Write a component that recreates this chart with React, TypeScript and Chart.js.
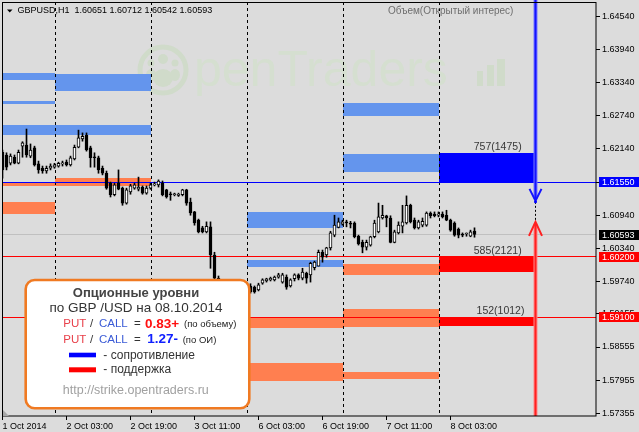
import React, { useEffect, useRef } from 'react';
import { Chart, registerables } from 'chart.js';

Chart.register(...registerables);

const FONT = '"Liberation Sans", Arial, sans-serif';

const symbolName = 'GBPUSD,H1';

const opens = [
  1.6208, 1.6203, 1.6188, 1.6199, 1.6188, 1.6219, 1.6221, 1.6201, 1.6216, 1.6187,
  1.6179, 1.6174, 1.6179, 1.6181, 1.6183, 1.6187, 1.6190, 1.6185, 1.6196, 1.6217,
  1.6232, 1.6239, 1.6216, 1.6199, 1.6198, 1.6179, 1.6170, 1.6152, 1.6131, 1.6152,
  1.6143, 1.6116, 1.6136, 1.6143, 1.6141, 1.6145, 1.6134, 1.6143, 1.6149, 1.6149,
  1.6152, 1.6140, 1.6132, 1.6131, 1.6130, 1.6131, 1.6140, 1.6118, 1.6100, 1.6085,
  1.6071, 1.6064, 1.6073, 1.6022, 1.5980, 1.5964, 1.5971, 1.5968, 1.5973, 1.5969,
  1.5971, 1.5968, 1.5966, 1.5964, 1.5959, 1.5971, 1.5975, 1.5977, 1.5977, 1.5982,
  1.5973, 1.5982, 1.5966, 1.5979, 1.5986, 1.5980, 1.5989, 1.5986, 1.5999, 1.6002,
  1.6027, 1.6022, 1.6035, 1.6058, 1.6072, 1.6078, 1.6082, 1.6080, 1.6080, 1.6056,
  1.6045, 1.6036, 1.6040, 1.6055, 1.6064, 1.6089, 1.6093, 1.6089, 1.6045, 1.6062,
  1.6074, 1.6080, 1.6112, 1.6085, 1.6071, 1.6076, 1.6076, 1.6098, 1.6096, 1.6094,
  1.6096, 1.6094, 1.6085, 1.6080, 1.6069, 1.6060, 1.6060, 1.6056, 1.60651,
];
const highs = [
  1.6212, 1.6207, 1.6205, 1.6203, 1.6212, 1.6227, 1.6250, 1.6223, 1.6219, 1.6192,
  1.6183, 1.6183, 1.6187, 1.6188, 1.6190, 1.6192, 1.6194, 1.6201, 1.6221, 1.6248,
  1.6243, 1.6243, 1.6219, 1.6207, 1.6201, 1.6183, 1.6174, 1.6154, 1.6152, 1.6176,
  1.6145, 1.6143, 1.6150, 1.6152, 1.6163, 1.6147, 1.6147, 1.6152, 1.6154, 1.6158,
  1.6156, 1.6141, 1.6136, 1.6134, 1.6134, 1.6141, 1.6141, 1.6125, 1.6101, 1.6087,
  1.6074, 1.6082, 1.6082, 1.6027, 1.5984, 1.5975, 1.5975, 1.5975, 1.5975, 1.5975,
  1.5973, 1.5973, 1.5970, 1.5966, 1.5971, 1.5979, 1.5980, 1.5982, 1.5984, 1.5989,
  1.5989, 1.5986, 1.5979, 1.5988, 1.5988, 1.5998, 1.5991, 1.6009, 1.6011, 1.6031,
  1.6031, 1.6036, 1.6065, 1.6094, 1.6089, 1.6085, 1.6085, 1.6083, 1.6082, 1.6058,
  1.6049, 1.6049, 1.6056, 1.6085, 1.6116, 1.6112, 1.6094, 1.6093, 1.6067, 1.6082,
  1.6112, 1.6129, 1.6114, 1.6089, 1.6085, 1.6089, 1.6100, 1.6100, 1.6100, 1.6100,
  1.6100, 1.6103, 1.6087, 1.6082, 1.6071, 1.6062, 1.6062, 1.6067, 1.60712,
];
const lows = [
  1.6161, 1.6176, 1.6185, 1.6187, 1.6187, 1.6199, 1.6199, 1.6198, 1.6183, 1.6170,
  1.6170, 1.6170, 1.6176, 1.6179, 1.6181, 1.6183, 1.6183, 1.6183, 1.6194, 1.6216,
  1.6228, 1.6210, 1.6181, 1.6181, 1.6170, 1.6167, 1.6141, 1.6127, 1.6129, 1.6140,
  1.6112, 1.6114, 1.6132, 1.6141, 1.6138, 1.6132, 1.6132, 1.6141, 1.6147, 1.6145,
  1.6129, 1.6125, 1.6121, 1.6129, 1.6128, 1.6129, 1.6112, 1.6094, 1.6076, 1.6062,
  1.6062, 1.6062, 1.5998, 1.5973, 1.5953, 1.5959, 1.5962, 1.5964, 1.5966, 1.5966,
  1.5964, 1.5959, 1.5953, 1.5953, 1.5957, 1.5969, 1.5973, 1.5975, 1.5975, 1.5980,
  1.5971, 1.5960, 1.5964, 1.5975, 1.5977, 1.5977, 1.5971, 1.5973, 1.5995, 1.6002,
  1.6009, 1.6018, 1.6031, 1.6055, 1.6071, 1.6076, 1.6073, 1.6071, 1.6053, 1.6040,
  1.6026, 1.6031, 1.6038, 1.6053, 1.6062, 1.6087, 1.6073, 1.6044, 1.6044, 1.6060,
  1.6062, 1.6078, 1.6080, 1.6069, 1.6069, 1.6073, 1.6074, 1.6089, 1.6091, 1.6091,
  1.6089, 1.6084, 1.6065, 1.6056, 1.6053, 1.6055, 1.6056, 1.6055, 1.60542,
];
const closes = [
  1.6176, 1.6181, 1.6201, 1.6188, 1.6208, 1.6225, 1.6203, 1.6212, 1.6185, 1.6176,
  1.6174, 1.6179, 1.6183, 1.6185, 1.6188, 1.6188, 1.6185, 1.6198, 1.6217, 1.6234,
  1.6237, 1.6212, 1.6198, 1.6198, 1.6176, 1.6170, 1.6143, 1.6131, 1.6149, 1.6141,
  1.6116, 1.6140, 1.6147, 1.6149, 1.6145, 1.6134, 1.6143, 1.6149, 1.6150, 1.6156,
  1.6131, 1.6127, 1.6131, 1.6132, 1.6132, 1.6140, 1.6116, 1.6098, 1.6080, 1.6064,
  1.6064, 1.6074, 1.6022, 1.5980, 1.5964, 1.5971, 1.5968, 1.5973, 1.5969, 1.5971,
  1.5968, 1.5966, 1.5955, 1.5955, 1.5968, 1.5977, 1.5979, 1.5980, 1.5982, 1.5986,
  1.5986, 1.5964, 1.5977, 1.5986, 1.5980, 1.5991, 1.5980, 1.6007, 1.6009, 1.6027,
  1.6018, 1.6035, 1.6062, 1.6076, 1.6082, 1.6082, 1.6080, 1.6078, 1.6055, 1.6042,
  1.6036, 1.6045, 1.6055, 1.6080, 1.6091, 1.6094, 1.6089, 1.6045, 1.6064, 1.6076,
  1.6082, 1.6112, 1.6082, 1.6071, 1.6082, 1.6083, 1.6098, 1.6093, 1.6093, 1.6096,
  1.6091, 1.6085, 1.6067, 1.6058, 1.6058, 1.6058, 1.6061, 1.6064, 1.60593,
];

const xTickIndex = [0, 16, 32, 48, 64, 80, 96, 112];
const xTickLabels = ['1 Oct 2014', '2 Oct 03:00', '2 Oct 19:00', '3 Oct 11:00', '6 Oct 03:00', '6 Oct 19:00', '7 Oct 11:00', '8 Oct 03:00'];
const daySeparators = [13, 37, 61, 85, 109];
const yTickValues = [1.6454, 1.6394, 1.6334, 1.6274, 1.6214, 1.6154, 1.6094, 1.6034, 1.5974, 1.59155, 1.58555, 1.57955, 1.57355];
const yMin = 1.573065;
const yMax = 1.64799;
const xMin = -0.125;
const xMax = 148.375;

// option levels (bar-index range, price range, kind)
const levelStart = [-0.125, -0.125, -0.125, -0.125, -0.125, 13, 13, 13, 61, 61, 61, 61, 85, 85, 85, 85, 85, 109, 109, 109];
const levelEnd = [13, 13, 13, 13, 13, 37, 37, 37, 85, 85, 85, 85, 109, 109, 109, 109, 109, 133, 133, 133];
const levelLow = [1.6339, 1.6296, 1.6239, 1.6147, 1.6096, 1.6319, 1.6239, 1.6146, 1.6070, 1.6001, 1.5890, 1.5794, 1.6274, 1.6172, 1.5986, 1.5892, 1.5798, 1.6153, 1.5992, 1.5893];
const levelHigh = [1.6351, 1.6301, 1.6257, 1.6155, 1.6118, 1.6350, 1.6257, 1.6162, 1.6100, 1.6013, 1.5910, 1.5826, 1.6298, 1.6205, 1.6006, 1.5924, 1.5810, 1.6207, 1.6020, 1.5910];
const levelKind = ['res', 'res', 'res', 'sup', 'sup', 'res', 'res', 'sup', 'res', 'res', 'sup', 'sup', 'res', 'res', 'sup', 'sup', 'sup', 'resNow', 'supNow', 'supNow'];

const currentLabelTop = [1.6207, 1.6020, 1.5910];
const currentLabelText = ['757(1475)', '585(2121)', '152(1012)'];
const currentLabelIndex = [123.8, 123.8, 124.5];

const hLinePrices = [1.6155, 1.6020, 1.5910];
const hLineKind = ['res', 'sup', 'sup'];

const arrowIndex = 133;
const blueArrowTip = 1.6120;
const redArrowTip = 1.6082;

const ratioVolume = '0.83+';
const ratioOI = '1.27-';
const reportDate = '08.10.2014';

const kindColor: Record<string, string> = {
  res: '#6495ed',
  sup: '#ff7f50',
  resNow: '#0000ff',
  supNow: '#ff0000',
};
const lineColor: Record<string, string> = { res: '#0000ff', sup: '#ff0000' };

const fmt = (v: number) => v.toFixed(5);

const mtPlugin = {
  id: 'mt4look',
  beforeDraw(chart: any) {
    const { ctx, width, height } = chart;
    ctx.save();
    ctx.fillStyle = '#dcdcdc';
    ctx.fillRect(0, 0, width, height);
    ctx.restore();
  },
  beforeDatasetsDraw(chart: any) {
    const { ctx, chartArea: a } = chart;
    const xs = chart.scales.x;
    const ys = chart.scales.y;
    ctx.save();
    ctx.beginPath();
    ctx.rect(a.left, a.top, a.right - a.left, a.bottom - a.top);
    ctx.clip();

    // watermark
    const wm = 'rgb(213,223,208)';
    const wmLogo = 'rgb(208,219,202)';
    ctx.strokeStyle = wmLogo;
    ctx.lineWidth = 5;
    ctx.beginPath();
    ctx.arc(163, 70, 23, 0, Math.PI * 2);
    ctx.stroke();
    ctx.fillStyle = wmLogo;
    const blob = (cx: number, cy: number, rx: number, ry: number) => {
      ctx.beginPath();
      ctx.ellipse(cx, cy, rx, ry, 0, 0, Math.PI * 2);
      ctx.fill();
    };
    blob(163, 59, 5, 5);
    blob(151, 63, 3.5, 3.5);
    blob(175, 63, 3.5, 3.5);
    blob(163, 78, 10, 9);
    blob(151, 75, 5, 6);
    blob(175, 75, 5, 6);
    ctx.fillStyle = wm;
    ctx.font = `50px ${FONT}`;
    ctx.textBaseline = 'alphabetic';
    ctx.textAlign = 'left';
    ctx.fillText('penTraders', 194, 86);
    ctx.fillStyle = wmLogo;
    ctx.fillRect(477, 71, 6, 15);
    ctx.fillRect(487, 65, 7, 21);
    ctx.fillRect(497, 59, 8, 27);

    // option levels
    for (let k = 0; k < levelStart.length; k++) {
      const x1 = Math.round(xs.getPixelForValue(levelStart[k]));
      const x2 = Math.round(xs.getPixelForValue(levelEnd[k]));
      const y1 = Math.round(ys.getPixelForValue(levelHigh[k]));
      const y2 = Math.round(ys.getPixelForValue(levelLow[k]));
      ctx.fillStyle = kindColor[levelKind[k]];
      ctx.fillRect(x1, y1, x2 - x1, y2 - y1);
    }

    // day separators
    ctx.strokeStyle = '#000';
    ctx.lineWidth = 1;
    ctx.setLineDash([3, 3]);
    for (const d of daySeparators) {
      const px = Math.round(xs.getPixelForValue(d)) + 0.5;
      ctx.beginPath();
      ctx.moveTo(px, a.top);
      ctx.lineTo(px, a.bottom);
      ctx.stroke();
    }
    ctx.setLineDash([]);

    // bid line
    const bid = closes[closes.length - 1];
    const by = Math.round(ys.getPixelForValue(bid)) + 0.5;
    ctx.strokeStyle = '#c0c0c0';
    ctx.beginPath();
    ctx.moveTo(a.left, by);
    ctx.lineTo(a.right, by);
    ctx.stroke();

    // level lines
    for (let k = 0; k < hLinePrices.length; k++) {
      const py = Math.round(ys.getPixelForValue(hLinePrices[k])) + 0.5;
      ctx.strokeStyle = lineColor[hLineKind[k]];
      ctx.beginPath();
      ctx.moveTo(a.left, py);
      ctx.lineTo(a.right, py);
      ctx.stroke();
    }
    ctx.restore();
  },
  afterDatasetsDraw(chart: any) {
    const { ctx, chartArea: a } = chart;
    const xs = chart.scales.x;
    const ys = chart.scales.y;
    ctx.save();
    // current level labels
    ctx.fillStyle = '#383838';
    ctx.font = `10.5px ${FONT}`;
    ctx.textAlign = 'center';
    ctx.textBaseline = 'alphabetic';
    for (let k = 0; k < currentLabelText.length; k++) {
      const px = xs.getPixelForValue(currentLabelIndex[k]);
      const py = ys.getPixelForValue(currentLabelTop[k]) - 2.5;
      ctx.fillText(currentLabelText[k], px, py);
    }

    // arrows
    const ax = Math.round(xs.getPixelForValue(arrowIndex)) + 0.5;
    const bt = ys.getPixelForValue(blueArrowTip);
    const rt = ys.getPixelForValue(redArrowTip);
    ctx.lineCap = 'butt';
    // blue
    ctx.strokeStyle = '#7b7bff';
    ctx.lineWidth = 4;
    ctx.beginPath();
    ctx.moveTo(ax, 0);
    ctx.lineTo(ax, bt - 2);
    ctx.stroke();
    ctx.strokeStyle = '#1414ff';
    ctx.lineWidth = 2;
    ctx.beginPath();
    ctx.moveTo(ax, 0);
    ctx.lineTo(ax, bt - 1);
    ctx.stroke();
    ctx.beginPath();
    ctx.moveTo(ax - 6, bt - 12);
    ctx.lineTo(ax, bt);
    ctx.lineTo(ax + 6, bt - 12);
    ctx.stroke();
    // red
    ctx.strokeStyle = '#ff8a8a';
    ctx.lineWidth = 4;
    ctx.beginPath();
    ctx.moveTo(ax, a.bottom);
    ctx.lineTo(ax, rt + 2);
    ctx.stroke();
    ctx.strokeStyle = '#ff2020';
    ctx.lineWidth = 2;
    ctx.beginPath();
    ctx.moveTo(ax, a.bottom);
    ctx.lineTo(ax, rt + 1);
    ctx.stroke();
    ctx.beginPath();
    ctx.moveTo(ax - 6.5, rt + 14);
    ctx.lineTo(ax, rt);
    ctx.lineTo(ax + 6.5, rt + 14);
    ctx.stroke();
    // dashed link
    ctx.strokeStyle = '#000';
    ctx.lineWidth = 1;
    ctx.setLineDash([2, 2]);
    ctx.beginPath();
    ctx.moveTo(ax, bt + 1);
    ctx.lineTo(ax, rt);
    ctx.stroke();
    ctx.setLineDash([]);
    ctx.fillStyle = '#0000ff';
    ctx.beginPath();
    ctx.arc(ax, bt + 1, 1.5, 0, Math.PI * 2);
    ctx.fill();
    ctx.restore();
  },
  afterDraw(chart: any) {
    const { ctx, chartArea: a } = chart;
    const ys = chart.scales.y;
    ctx.save();

    // frame
    ctx.strokeStyle = '#000';
    ctx.lineWidth = 1;
    ctx.strokeRect(a.left + 0.5, a.top + 0.5, a.right - a.left - 0.5, a.bottom - a.top - 0.5);

    // corner marker
    ctx.fillStyle = '#a8a8a8';
    ctx.beginPath();
    ctx.moveTo(a.left + 1, a.bottom - 6);
    ctx.lineTo(a.left + 1, a.bottom);
    ctx.lineTo(a.left + 7, a.bottom);
    ctx.closePath();
    ctx.fill();

    // header
    ctx.fillStyle = '#000';
    ctx.beginPath();
    ctx.moveTo(7, 9.5);
    ctx.lineTo(12.5, 9.5);
    ctx.lineTo(9.75, 12.5);
    ctx.closePath();
    ctx.fill();
    const n = closes.length - 1;
    ctx.font = `9px ${FONT}`;
    ctx.textAlign = 'left';
    ctx.textBaseline = 'middle';
    ctx.fillText(`${symbolName}  ${fmt(opens[n])} ${fmt(highs[n])} ${fmt(lows[n])} ${fmt(closes[n])}`, 17.5, 11);
    ctx.fillStyle = '#6e6e6e';
    ctx.font = `10px ${FONT}`;
    ctx.fillText('Объем(Открытый интерес)', 388, 11);

    // price boxes on the axis
    const boxes = [
      { v: hLinePrices[0], c: lineColor[hLineKind[0]] },
      { v: closes[n], c: '#000000' },
      { v: hLinePrices[1], c: lineColor[hLineKind[1]] },
      { v: hLinePrices[2], c: lineColor[hLineKind[2]] },
    ];
    ctx.font = `9px ${FONT}`;
    for (const b of boxes) {
      const py = ys.getPixelForValue(b.v);
      ctx.fillStyle = b.c;
      ctx.fillRect(599, Math.round(py - 4.5), 40, 10);
      ctx.fillStyle = '#ffffff';
      ctx.fillText(fmt(b.v), 602, Math.round(py - 4.5) + 5.2);
    }

    // info box
    const bx = 25.7, byy = 280, bw = 223.6, bh = 128.3;
    ctx.beginPath();
    ctx.roundRect(bx, byy, bw, bh, 9);
    ctx.fillStyle = '#ffffff';
    ctx.fill();
    ctx.strokeStyle = '#f07a22';
    ctx.lineWidth = 2.6;
    ctx.stroke();

    const cx = 136;
    ctx.textAlign = 'center';
    ctx.textBaseline = 'middle';
    ctx.fillStyle = '#444444';
    ctx.font = `bold 13px ${FONT}`;
    ctx.fillText('Опционные уровни', cx, 293);
    ctx.fillStyle = '#333333';
    ctx.font = `13.5px ${FONT}`;
    ctx.fillText(`по GBP /USD на ${reportDate}`, cx, 308.5);

    ctx.textAlign = 'left';
    const ratioLine = (y: number, val: string, valColor: string, valX: number, note: string, noteX: number) => {
      ctx.font = `11.5px ${FONT}`;
      ctx.fillStyle = '#e8404a';
      ctx.fillText('PUT', 63.3, y);
      ctx.fillStyle = '#333333';
      ctx.fillText('/', 90, y);
      ctx.fillStyle = '#3b5bd6';
      ctx.fillText('CALL', 99, y);
      ctx.fillStyle = '#333333';
      ctx.fillText('=', 134, y);
      ctx.font = `bold 13.5px ${FONT}`;
      ctx.fillStyle = valColor;
      ctx.fillText(val, valX, y);
      ctx.font = `9.5px ${FONT}`;
      ctx.fillStyle = '#222222';
      ctx.fillText(note, noteX, y + 0.5);
    };
    ratioLine(324, ratioVolume, '#ff1010', 145, '(по объему)', 184);
    ratioLine(339.5, ratioOI, '#1020ff', 147.3, '(по ОИ)', 182.7);

    ctx.fillStyle = '#0000ff';
    ctx.fillRect(69, 352.7, 27, 4.6);
    ctx.fillStyle = '#ff0000';
    ctx.fillRect(69, 367.3, 27, 5);
    ctx.fillStyle = '#333333';
    ctx.font = `12px ${FONT}`;
    ctx.fillText('- сопротивление', 103.3, 355.3);
    ctx.fillText('- поддержка', 103.3, 369.7);

    ctx.textAlign = 'center';
    ctx.fillStyle = '#a0a0a0';
    ctx.font = `12.5px ${FONT}`;
    ctx.fillText('http://strike.opentraders.ru', 135.8, 390.7);

    ctx.restore();
  },
};

export default function App() {
  const ref = useRef<HTMLCanvasElement>(null);
  useEffect(() => {
    document.body.style.margin = '0';
    const canvas = ref.current;
    if (!canvas) return;
    const wickData = opens.map((_, i) => ({ x: i, y: [lows[i], highs[i]] }));
    const bodyData = opens.map((o, i) => ({ x: i, y: [Math.min(o, closes[i]), Math.max(o, closes[i])] }));
    const bodyColors = opens.map((o, i) => (closes[i] >= o ? '#ffffff' : '#000000'));

    const chart = new Chart(canvas, {
      type: 'bar',
      data: {
        datasets: [
          {
            label: 'wick',
            data: wickData as any,
            backgroundColor: '#000000',
            borderWidth: 0,
            barThickness: 1,
            grouped: false,
            order: 1,
          } as any,
          {
            label: 'body',
            data: bodyData as any,
            backgroundColor: bodyColors,
            borderColor: '#000000',
            borderWidth: 1,
            borderSkipped: false,
            barThickness: 3,
            minBarLength: 1,
            grouped: false,
            order: 0,
          } as any,
        ],
      },
      options: {
        animation: false,
        responsive: false,
        devicePixelRatio: 1,
        events: [],
        layout: { padding: { left: 2, top: 2, right: 0, bottom: 0 } },
        plugins: { legend: { display: false }, tooltip: { enabled: false }, title: { display: false } },
        scales: {
          x: {
            type: 'linear',
            position: 'bottom',
            min: xMin,
            max: xMax,
            offset: false,
            afterBuildTicks: (s: any) => {
              s.ticks = xTickIndex.map((v) => ({ value: v }));
            },
            afterFit: (s: any) => {
              s.height = 16;
              s.paddingLeft = 0;
              s.paddingRight = 0;
              s.paddingTop = 0;
              s.paddingBottom = 0;
            },
            ticks: {
              autoSkip: false,
              maxRotation: 0,
              minRotation: 0,
              align: 'start',
              padding: 1,
              color: '#000000',
              font: { family: FONT, size: 9 },
              callback: (v: any) => {
                const k = xTickIndex.indexOf(Number(v));
                return k >= 0 ? xTickLabels[k] : '';
              },
            },
            grid: { drawOnChartArea: false, drawTicks: true, tickLength: 4, color: '#000000', offset: false },
            border: { display: false },
          } as any,
          y: {
            type: 'linear',
            position: 'right',
            min: yMin,
            max: yMax,
            afterBuildTicks: (s: any) => {
              s.ticks = yTickValues.map((v) => ({ value: v }));
            },
            afterFit: (s: any) => {
              s.width = 43;
              s.paddingLeft = 0;
              s.paddingRight = 0;
              s.paddingTop = 0;
              s.paddingBottom = 0;
            },
            ticks: {
              autoSkip: false,
              padding: 2,
              color: '#000000',
              font: { family: FONT, size: 9 },
              callback: (v: any) => Number(v).toFixed(5),
            },
            grid: { drawOnChartArea: false, drawTicks: true, tickLength: 4, color: '#000000' },
            border: { display: false },
          } as any,
        },
      },
      plugins: [mtPlugin],
    });
    return () => chart.destroy();
  }, []);

  return (
    <div style={{ position: 'relative', width: 639, height: 432 }}>
      <canvas ref={ref} width={639} height={432} style={{ display: 'block', width: 639, height: 432 }} />
    </div>
  );
}
